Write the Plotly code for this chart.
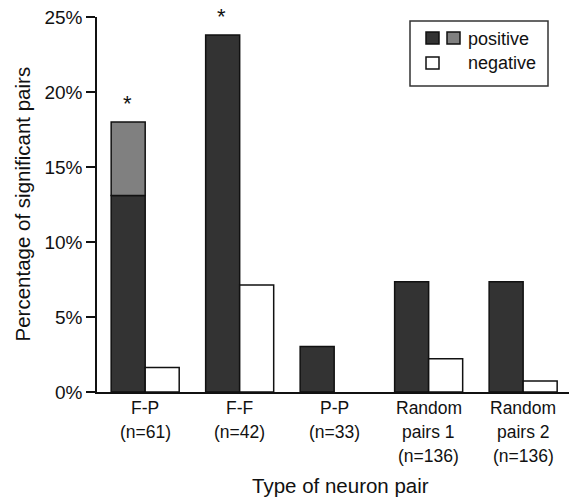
import plotly.graph_objects as go

categories = ["F-P", "F-F", "P-P", "Random pairs 1", "Random pairs 2"]
tick_lines = [
    ["F-P", "(n=61)"],
    ["F-F", "(n=42)"],
    ["P-P", "(n=33)"],
    ["Random", "pairs 1", "(n=136)"],
    ["Random", "pairs 2", "(n=136)"],
]
positive_dark = [13.1, 23.8, 3.03, 7.35, 7.35]
positive_light = [4.9, None, None, None, None]
negative = [1.64, 7.14, None, 2.21, 0.74]
significant = [True, True, False, False, False]
y_ticks = [0, 5, 10, 15, 20, 25]

FONT = "Liberation Sans, Arial, sans-serif"
DARK = "#333333"
GRAY = "#808080"
INK = "#111111"
LINE = dict(color=INK, width=1.5)

fig = go.Figure()
fig.add_trace(go.Bar(x=categories, y=positive_dark, offsetgroup="pos",
                     marker=dict(color=DARK, line=LINE), showlegend=False))
fig.add_trace(go.Bar(x=categories, y=positive_light, base=positive_dark, offsetgroup="pos",
                     marker=dict(color=GRAY, line=LINE), showlegend=False))
fig.add_trace(go.Bar(x=categories, y=negative, offsetgroup="neg",
                     marker=dict(color="white", line=LINE), showlegend=False))

annotations = []
# significance asterisks
for c, d, l, s in zip(categories, positive_dark, positive_light, significant):
    if s:
        top = d + (l or 0)
        annotations.append(dict(x=c, y=top, xref="x", yref="y", text="*", showarrow=False,
                                xshift=-18, yshift=4, yanchor="bottom",
                                font=dict(family=FONT, size=22, color=INK)))
# multi-line category labels
for c, lines in zip(categories, tick_lines):
    for i, t in enumerate(lines):
        annotations.append(dict(x=c, y=0, xref="x", yref="paper", text=t, showarrow=False,
                                yanchor="middle", yshift=-16 - 24 * i,
                                font=dict(family=FONT, size=17.5, color=INK)))
# axis titles
annotations.append(dict(x=0.5, y=0, xref="paper", yref="paper", text="Type of neuron pair",
                        showarrow=False, yanchor="middle", xshift=3, yshift=-93,
                        font=dict(family=FONT, size=20.5, color=INK)))
annotations.append(dict(x=0, y=0.5, xref="paper", yref="paper",
                        text="Percentage of significant pairs", textangle=-90,
                        showarrow=False, xanchor="center", yanchor="middle", xshift=-75,
                        font=dict(family=FONT, size=20.5, color=INK)))

# manual legend (positions given in page pixels, converted to plot-area fractions)
def px2paper(px, py):
    return (px - 97) / 480, (392 - py) / 375

shapes = []
x0, y0 = px2paper(410, 86)
x1, y1 = px2paper(548, 21)
shapes.append(dict(type="rect", xref="paper", yref="paper", x0=x0, y0=y0, x1=x1, y1=y1,
                   line=dict(color="#333", width=1.5), fillcolor="white"))
for (ax, ay, bx, by, col) in [(426, 44, 439, 32, DARK), (447, 44, 460, 32, GRAY),
                              (426, 69, 439, 57, "white")]:
    a = px2paper(ax, ay)
    b = px2paper(bx, by)
    shapes.append(dict(type="rect", xref="paper", yref="paper", x0=a[0], y0=a[1],
                       x1=b[0], y1=b[1], line=dict(color=INK, width=1.5), fillcolor=col))
for text, py in [("positive", 39), ("negative", 63)]:
    p = px2paper(466, py)
    annotations.append(dict(x=p[0], y=p[1], xref="paper", yref="paper", text=text,
                            showarrow=False, xanchor="left", yanchor="middle",
                            font=dict(family=FONT, size=18, color=INK)))

fig.update_layout(
    width=569, height=489,
    margin=dict(l=89, r=0, t=9, b=105),
    paper_bgcolor="white", plot_bgcolor="white",
    barmode="group", bargap=0.28, bargroupgap=0,
    font=dict(family=FONT, size=18, color=INK),
    annotations=annotations, shapes=shapes,
    xaxis=dict(showticklabels=False, ticks="", showgrid=False, zeroline=False,
               showline=True, linecolor=INK, linewidth=1.5,
               range=[-0.51, 4.57]),
    yaxis=dict(range=[0, 25], tickvals=y_ticks, ticktext=[f"{v}%" for v in y_ticks],
               ticks="outside", ticklen=9, tickwidth=1.5, tickcolor=INK,
               ticklabeloverflow="allow",
               showgrid=False, zeroline=False, showline=True, linecolor=INK, linewidth=1.5,
               tickfont=dict(family=FONT, size=19, color=INK)),
)

fig.write_html("out.html")
